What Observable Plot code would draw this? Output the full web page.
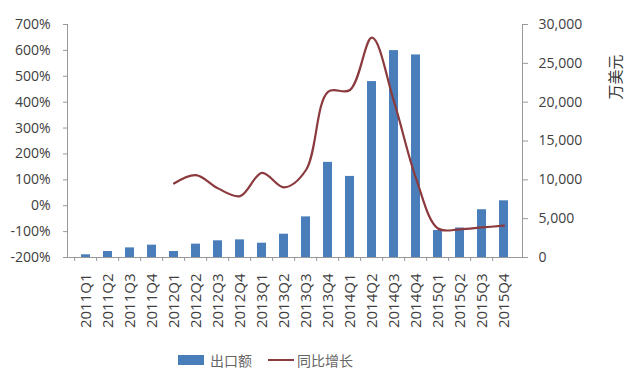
<!DOCTYPE html>
<html>
<head>
<meta charset="utf-8">
<script src="https://cdn.jsdelivr.net/npm/d3@7"></script>
<script src="https://cdn.jsdelivr.net/npm/@observablehq/plot@0.6"></script>
<style>
  body { margin: 0; background: #fff; }
  #legend { height: 23px; display: flex; align-items: center; font-family: 'Noto Sans CJK SC', sans-serif; font-size: 14px; color: #666; padding-left: 178px; }
  .sw { display: inline-block; }
</style>
</head>
<body>
<div id="chart"></div>
<div id="legend">
  <span class="sw" style="width:26px;height:10px;background:#4a7ebb;margin-right:6px"></span><span>出口额</span>
  <span class="sw" style="width:26px;height:2px;background:#8b3a3e;margin-left:16px;margin-right:3px"></span><span>同比增长</span>
</div>
<script>
const categories = ["2011Q1","2011Q2","2011Q3","2011Q4","2012Q1","2012Q2","2012Q3","2012Q4","2013Q1","2013Q2","2013Q3","2013Q4","2014Q1","2014Q2","2014Q3","2014Q4","2015Q1","2015Q2","2015Q3","2015Q4"];
// 出口额 (万美元)
const exportValues = [350, 770, 1240, 1590, 770, 1720, 2150, 2270, 1840, 3000, 5230, 12250, 10440, 22650, 26640, 26080, 3480, 3800, 6150, 7300];
// 同比增长 (%)
const growthValues = [null, null, null, null, 86, 118, 67, 37, 127, 71, 138, 440, 447, 649, 402, 106, -88, -91, -84, -77];
const pctTicks = [-200, -100, 0, 100, 200, 300, 400, 500, 600, 700];
const valueTicks = [0, 5000, 10000, 15000, 20000, 25000, 30000];
const unitLabel = "万美元";

const pctMin = pctTicks[0], pctMax = pctTicks[pctTicks.length - 1];
const vMax = valueTicks[valueTicks.length - 1];
const toV = p => (p - pctMin) / (pctMax - pctMin) * vMax;
const toP = v => v / vMax * (pctMax - pctMin) + pctMin;

const W = 630, H = 348, mL = 67, mR = 108, mT = 24, mB = 91;
const step = (W - mL - mR) / categories.length;

const bars = categories.map((q, i) => ({q, v: exportValues[i]}));
const lineData = categories.map((q, i) => ({q, g: growthValues[i]})).filter(d => d.g != null);

const chart = Plot.plot({
  width: W, height: H,
  marginLeft: mL, marginRight: mR, marginTop: mT, marginBottom: mB,
  style: {fontFamily: "'Open Sans', 'Noto Sans CJK SC', sans-serif", fontSize: "13px", color: "#404040", background: "#fff"},
  x: {domain: categories, paddingInner: 0.58, paddingOuter: 0.29, align: 0.5, axis: null},
  y: {domain: [0, vMax], axis: null},
  marks: [
    Plot.barY(bars, {x: "q", y: "v", fill: "#4a7ebb"}),
    Plot.line(lineData, {x: "q", y: d => toV(d.g), stroke: "#8b3a3e", strokeWidth: 2.2, curve: "catmull-rom"}),
    Plot.frame({anchor: "left", stroke: "#999"}),
    Plot.frame({anchor: "right", stroke: "#999"}),
    Plot.frame({anchor: "bottom", stroke: "#999"}),
    Plot.axisY(pctTicks.map(toV), {anchor: "left", tickFormat: d => Math.round(toP(d)) + "%", tickSize: 4, tickPadding: 13, stroke: "#999", fontSize: 14, label: null}),
    Plot.axisY(valueTicks, {anchor: "right", tickFormat: d3.format(","), tickSize: 5, tickPadding: 11, stroke: "#999", fontSize: 14, label: null}),
    Plot.axisX({tickSize: 0, tickRotate: -90, tickPadding: 16, fontSize: 15, label: null}),
    Plot.axisX({tickSize: 4, text: null, dx: -step / 2, stroke: "#999", label: null}),
    Plot.text([unitLabel], {frameAnchor: "top-right", dx: 88, dy: 30, rotate: -90, fontSize: 15, fill: "#333"})
  ]
});
document.getElementById("chart").appendChild(chart);
</script>
</body>
</html>
